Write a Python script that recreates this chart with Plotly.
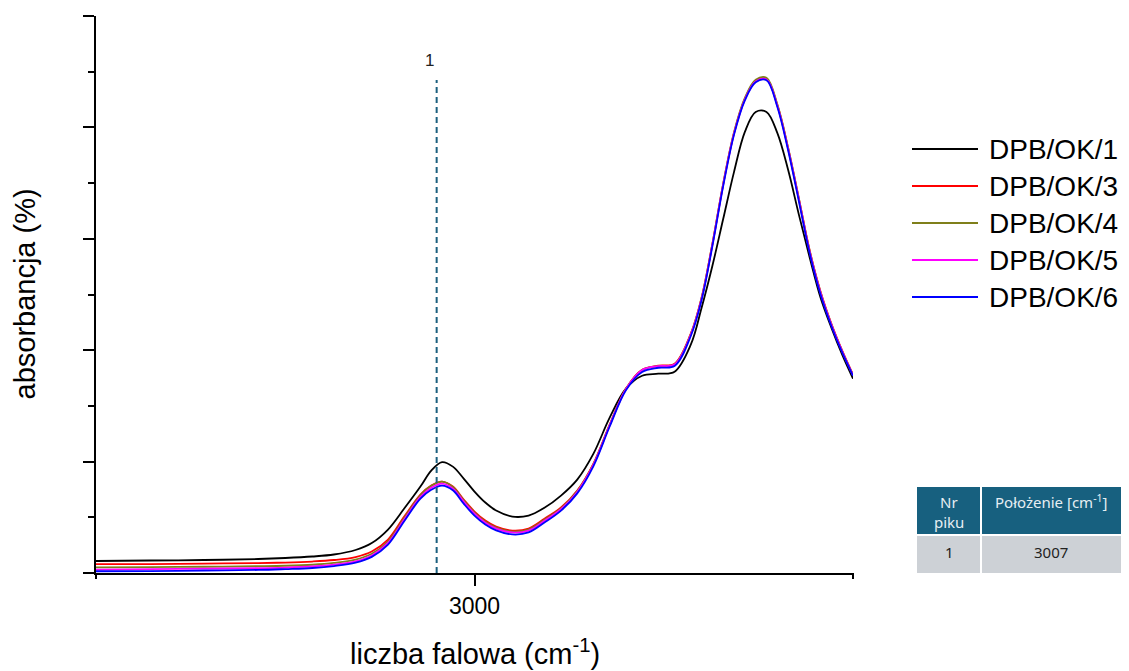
import plotly.graph_objects as go

# Wavenumber grid (cm^-1) shared by all spectra
wavenumber = [3070, 3060, 3050, 3040, 3035, 3030, 3026, 3022, 3019, 3016, 3013, 3010,
              3008, 3006, 3004, 3002, 3000, 2998, 2996, 2993, 2990, 2987, 2984, 2981,
              2978, 2975, 2972, 2969, 2966, 2963,
              2960, 2958, 2956, 2954, 2952, 2950, 2948, 2946, 2944, 2942, 2940, 2938,
              2936, 2934, 2932, 2930]

# Absorbance (%) of each sample
dpb_ok_1 = [2.15, 2.24, 2.33, 2.51, 2.69, 2.96, 3.32, 4.13, 5.38, 7.80, 11.57, 15.52,
            18.39, 19.91, 19.10, 16.95, 14.62, 12.65, 11.21, 10.13, 10.31, 11.75, 13.90, 16.77,
            21.43, 27.89, 33.09, 35.42, 35.78, 36.14,
            40.99, 47.62, 55.16, 63.59, 72.02, 79.19, 82.78, 82.78, 79.01, 72.38, 64.30, 56.59,
            49.42, 44.04, 39.19, 34.89]
dpb_ok_3 = [1.61, 1.61, 1.70, 1.79, 1.88, 2.06, 2.33, 2.87, 3.86, 6.01, 10.13, 14.08,
            15.69, 16.41, 15.52, 13.18, 11.03, 9.42, 8.34, 7.62, 7.98, 9.78, 11.75, 14.80,
            19.64, 26.64, 33.09, 36.50, 37.22, 37.58,
            42.96, 49.42, 59.10, 69.87, 79.01, 85.11, 88.34, 88.70, 84.04, 76.32, 67.17, 57.85,
            50.49, 44.75, 39.91, 35.60]
dpb_ok_4 = [1.01, 1.05, 1.12, 1.22, 1.30, 1.48, 1.80, 2.40, 3.45, 5.65, 9.85, 13.95,
            15.65, 16.40, 15.45, 13.05, 10.85, 9.22, 8.14, 7.42, 7.80, 9.60, 11.60, 14.70,
            19.55, 26.58, 33.05, 36.45, 37.15, 37.50,
            42.90, 49.40, 59.12, 69.95, 79.15, 85.30, 88.55, 88.90, 84.15, 76.35, 67.15, 57.80,
            50.42, 44.68, 39.86, 35.55]
dpb_ok_5 = [0.61, 0.68, 0.78, 0.88, 0.98, 1.18, 1.50, 2.10, 3.15, 5.40, 9.60, 13.65,
            15.30, 16.05, 15.15, 12.80, 10.65, 9.02, 7.98, 7.28, 7.62, 9.42, 11.45, 14.55,
            19.45, 26.50, 33.00, 36.45, 37.15, 37.45,
            42.80, 49.25, 58.95, 69.75, 78.90, 85.00, 88.25, 88.60, 83.90, 76.15, 66.98, 57.65,
            50.30, 44.60, 39.80, 35.50]
dpb_ok_6 = [0.31, 0.35, 0.45, 0.55, 0.70, 0.90, 1.25, 1.85, 2.90, 5.10, 9.30, 13.35,
            14.95, 15.70, 14.85, 12.45, 10.30, 8.70, 7.65, 6.92, 7.28, 9.10, 11.20, 14.30,
            19.20, 26.30, 32.80, 36.10, 36.85, 37.15,
            42.55, 49.00, 58.70, 69.50, 78.70, 84.85, 88.10, 88.45, 83.70, 75.90, 66.70, 57.35,
            50.00, 44.35, 39.60, 35.40]

series_names = ["DPB/OK/1", "DPB/OK/3", "DPB/OK/4", "DPB/OK/5", "DPB/OK/6"]
series_values = [dpb_ok_1, dpb_ok_3, dpb_ok_4, dpb_ok_5, dpb_ok_6]
series_colors = ["#000000", "#ff0000", "#7f7f1a", "#ff00ff", "#0000ff"]

# Marked band
peak_numbers = ["1"]
peak_positions = [3007]

# Axis ticks
x_tick_values = [3000]
x_tick_labels = ["3000"]

W, H = 1129, 671
L, R, T, B = 96, 853, 16, 573
FONT = "Liberation Sans, Arial, sans-serif"
TABLE_FONT = "Noto Sans, Open Sans, sans-serif"


def px(x):
    return (x - L) / (R - L)


def py(y):
    return (B - y) / (B - T)


def label(x, y, text, size, color, family=FONT, xanchor="center", **kw):
    return dict(x=x, y=y, text=text, showarrow=False, xanchor=xanchor, yanchor="middle",
                font=dict(family=family, size=size, color=color), **kw)


fig = go.Figure()
for name, vals, col in zip(series_names, series_values, series_colors):
    fig.add_trace(go.Scatter(
        x=wavenumber, y=vals, mode="lines", name=name,
        line=dict(color=col, width=1.8, shape="spline", smoothing=1.0),
        showlegend=False,
    ))

shapes = []
annotations = []

# dashed marker line at the band position
for num, pos in zip(peak_numbers, peak_positions):
    shapes.append(dict(type="line", xref="x", yref="y", x0=pos, x1=pos, y0=0, y1=88.5,
                       line=dict(color="#1b5f7e", width=2, dash="6px,4px")))
    annotations.append(label(pos, py(61), num, 17, "#222222", xref="x", yref="paper", xshift=-7))

# small end caps of the x axis line
for xe in (L, R):
    shapes.append(dict(type="line", xref="paper", yref="paper", x0=px(xe), x1=px(xe),
                       y0=0, y1=py(579), line=dict(color="#000000", width=2)))

# legend drawn as line samples with labels
leg_y = [149, 186, 223, 260, 297]
for name, col, yy in zip(series_names, series_colors, leg_y):
    shapes.append(dict(type="line", xref="paper", yref="paper", x0=px(912), x1=px(978),
                       y0=py(yy), y1=py(yy), line=dict(color=col, width=1.8)))
    annotations.append(label(px(987), py(yy), name, 28, "#000000", xanchor="left",
                             xref="paper", yref="paper"))

# peak table
header_fill = "#17607f"
row_fill = "#cdd1d6"
for (x0, x1, y0, y1, fill) in [
    (917, 980, 487, 534, header_fill), (982, 1121, 487, 534, header_fill),
    (917, 980, 536, 573, row_fill), (982, 1121, 536, 573, row_fill),
]:
    shapes.append(dict(type="rect", xref="paper", yref="paper", x0=px(x0), x1=px(x1),
                       y0=py(y1), y1=py(y0), fillcolor=fill, line=dict(width=0)))

table_header = [("Nr", 949, 502), ("piku", 949, 522), ("Położenie [cm<sup>-1</sup>]", 1051, 501)]
for txt, xx, yy in table_header:
    annotations.append(label(px(xx), py(yy), txt, 15, "#e6eef3", family=TABLE_FONT,
                             xref="paper", yref="paper"))
for num, pos in zip(peak_numbers, peak_positions):
    annotations.append(label(px(949), py(552), num, 15, "#222222", family=TABLE_FONT,
                             xref="paper", yref="paper"))
    annotations.append(label(px(1051), py(552), str(pos), 15, "#222222", family=TABLE_FONT,
                             xref="paper", yref="paper"))

# axis titles
annotations.append(label(0.5, py(652), "liczba falowa (cm<sup>-1</sup>)", 29, "#000000",
                         xref="paper", yref="paper"))
annotations.append(label(px(24), 0.5, "absorbancja (%)", 29, "#000000",
                         xref="paper", yref="paper", textangle=-90))

fig.update_layout(
    width=W, height=H,
    margin=dict(l=L, r=W - R, t=T, b=H - B),
    paper_bgcolor="#ffffff", plot_bgcolor="#ffffff",
    shapes=shapes, annotations=annotations,
    xaxis=dict(range=[3070, 2930], showgrid=False, zeroline=False,
               showline=True, linecolor="#000000", linewidth=2,
               ticks="outside", ticklen=11, tickwidth=2, tickcolor="#000000",
               tickvals=x_tick_values, ticktext=x_tick_labels,
               tickfont=dict(family=FONT, size=23, color="#000000")),
    yaxis=dict(range=[0, 100], showgrid=False, zeroline=False,
               showline=True, linecolor="#000000", linewidth=2,
               ticks="outside", ticklen=11, tickwidth=2, tickcolor="#000000",
               dtick=20, showticklabels=False,
               minor=dict(ticks="outside", ticklen=6, tickwidth=2, tickcolor="#000000", dtick=10)),
)

fig.write_html("out.html")
